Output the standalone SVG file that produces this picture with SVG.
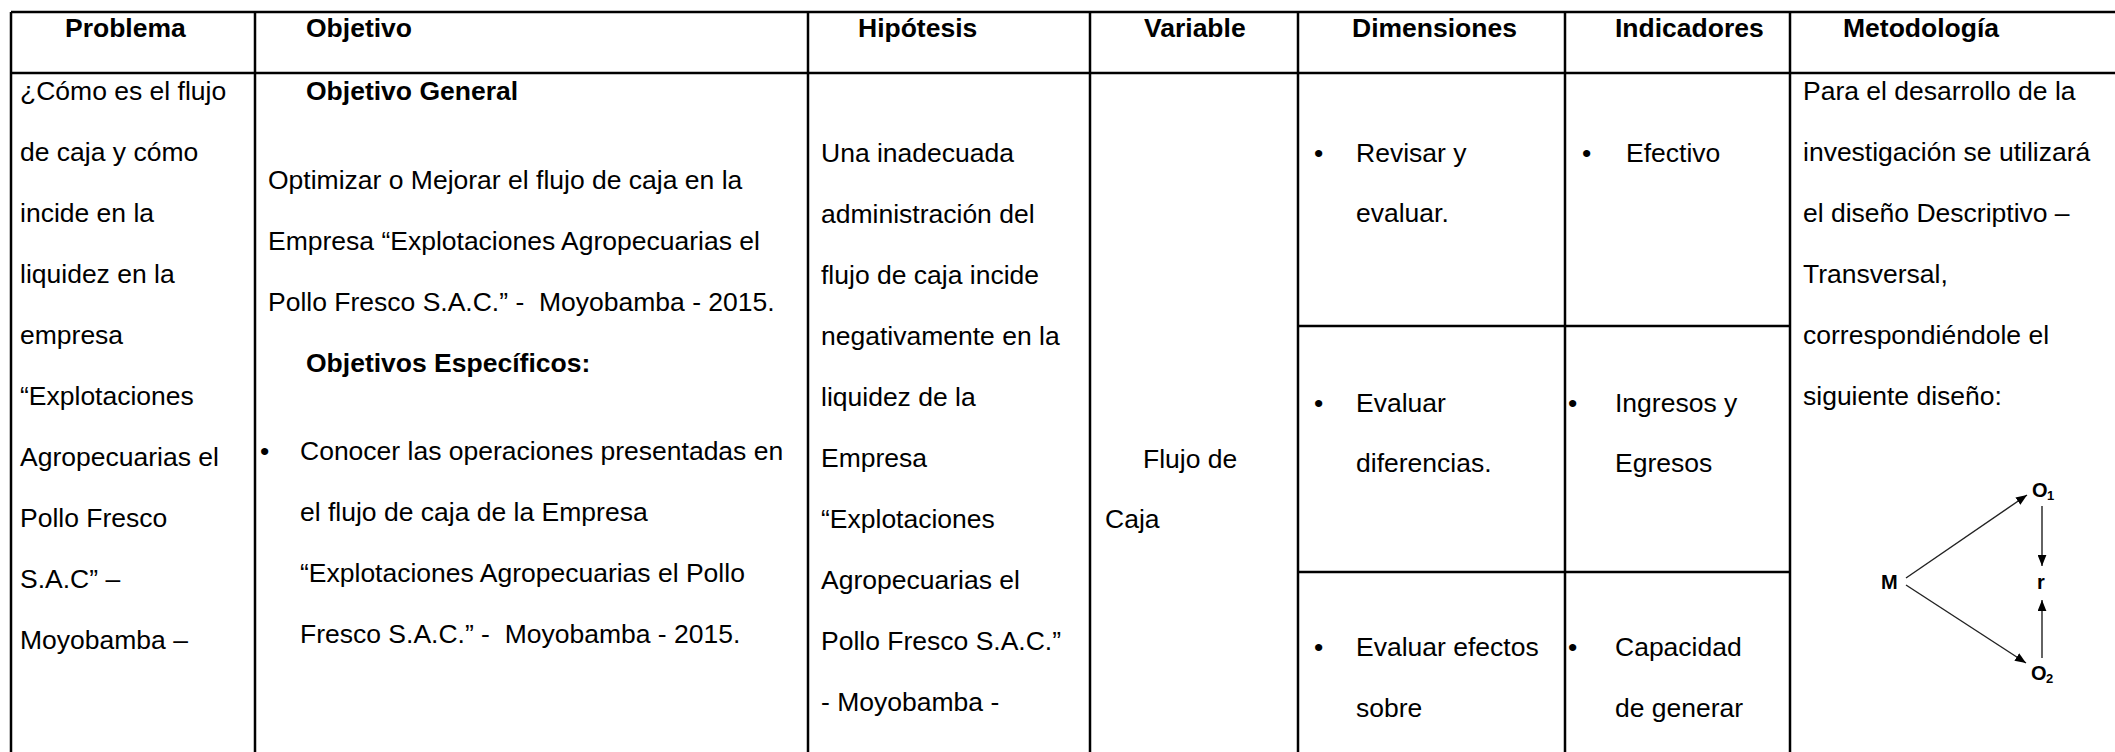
<svg xmlns="http://www.w3.org/2000/svg" width="2115" height="752" viewBox="0 0 2115 752">
<style>
text{font-family:"Liberation Sans",Arial,sans-serif;font-size:26.5px;fill:#000;white-space:pre}
.b{font-weight:bold}
.grid{stroke:#000;stroke-width:2.5;fill:none}
.dg{font-size:20px;font-weight:bold}
.sub{font-size:13px;font-weight:bold}
.conn{stroke:#222;stroke-width:1.4;fill:none}
</style>
<defs>
<marker id="ah" viewBox="0 0 10 8" refX="10" refY="4" markerWidth="11" markerHeight="9" markerUnits="userSpaceOnUse" orient="auto"><path d="M0,0 L10,4 L0,8 z" fill="#000"/></marker>
</defs>
<rect width="2115" height="752" fill="#fff"/>
<g id="grid" class="grid">
<path d="M11,12 H2115 M11,73 H2115 M1298,326 H1790 M1298,572 H1790"/>
<path d="M11,12 V752 M255,12 V752 M808,12 V752 M1090,12 V752 M1298,12 V752 M1565,12 V752 M1790,12 V752"/>
</g>
<g id="headers">
<g id="h-problema"><text class="b" x="65" y="37">Problema</text></g>
<g id="h-objetivo"><text class="b" x="306" y="37">Objetivo</text></g>
<g id="h-hipotesis"><text class="b" x="858" y="37">Hipótesis</text></g>
<g id="h-variable"><text class="b" x="1144" y="37">Variable</text></g>
<g id="h-dimensiones"><text class="b" x="1352" y="37">Dimensiones</text></g>
<g id="h-indicadores"><text class="b" x="1615" y="37">Indicadores</text></g>
<g id="h-metodologia"><text class="b" x="1843" y="37">Metodología</text></g>
</g>
<g id="problema">
<text x="20" y="100">¿Cómo es el flujo</text>
<text x="20" y="161">de caja y cómo</text>
<text x="20" y="222">incide en la</text>
<text x="20" y="283">liquidez en la</text>
<text x="20" y="344">empresa</text>
<text x="20" y="405">“Explotaciones</text>
<text x="20" y="466">Agropecuarias el</text>
<text x="20" y="527">Pollo Fresco</text>
<text x="20" y="588">S.A.C” –</text>
<text x="20" y="649">Moyobamba –</text>
</g>
<g id="objetivo">
<text class="b" x="306" y="100">Objetivo General</text>
<text x="268" y="189">Optimizar o Mejorar el flujo de caja en la</text>
<text x="268" y="250">Empresa “Explotaciones Agropecuarias el</text>
<text x="268" y="311">Pollo Fresco S.A.C.” -  Moyobamba - 2015.</text>
<text class="b" x="306" y="372">Objetivos Específicos:</text>
<text x="260" y="460">•</text>
<text x="300" y="460">Conocer las operaciones presentadas en</text>
<text x="300" y="521">el flujo de caja de la Empresa</text>
<text x="300" y="582">“Explotaciones Agropecuarias el Pollo</text>
<text x="300" y="643">Fresco S.A.C.” -  Moyobamba - 2015.</text>
</g>
<g id="hipotesis">
<text x="821" y="162">Una inadecuada</text>
<text x="821" y="223">administración del</text>
<text x="821" y="284">flujo de caja incide</text>
<text x="821" y="345">negativamente en la</text>
<text x="821" y="406">liquidez de la</text>
<text x="821" y="467">Empresa</text>
<text x="821" y="528">“Explotaciones</text>
<text x="821" y="589">Agropecuarias el</text>
<text x="821" y="650">Pollo Fresco S.A.C.”</text>
<text x="821" y="711">- Moyobamba -</text>
</g>
<g id="variable">
<text x="1143" y="468">Flujo de</text>
<text x="1105" y="528">Caja</text>
</g>
<g id="dim-1">
<text x="1314" y="162">•</text>
<text x="1356" y="162">Revisar y</text>
<text x="1356" y="222">evaluar.</text>
</g>
<g id="dim-2">
<text x="1314" y="412">•</text>
<text x="1356" y="412">Evaluar</text>
<text x="1356" y="472">diferencias.</text>
</g>
<g id="dim-3">
<text x="1314" y="656">•</text>
<text x="1356" y="656">Evaluar efectos</text>
<text x="1356" y="717">sobre</text>
</g>
<g id="ind-1">
<text x="1582" y="162">•</text>
<text x="1626" y="162">Efectivo</text>
</g>
<g id="ind-2">
<text x="1568" y="412">•</text>
<text x="1615" y="412">Ingresos y</text>
<text x="1615" y="472">Egresos</text>
</g>
<g id="ind-3">
<text x="1568" y="656">•</text>
<text x="1615" y="656">Capacidad</text>
<text x="1615" y="717">de generar</text>
</g>
<g id="metodologia">
<text x="1803" y="100">Para el desarrollo de la</text>
<text x="1803" y="161">investigación se utilizará</text>
<text x="1803" y="222">el diseño Descriptivo –</text>
<text x="1803" y="283">Transversal,</text>
<text x="1803" y="344">correspondiéndole el</text>
<text x="1803" y="405">siguiente diseño:</text>
</g>
<g id="node-M"><text class="dg" x="1881" y="589">M</text></g>
<g id="node-O1"><text class="dg" x="2032" y="497">O</text><text class="sub" x="2047" y="500">1</text></g>
<g id="node-r"><text class="dg" x="2037" y="589">r</text></g>
<g id="node-O2"><text class="dg" x="2031" y="680">O</text><text class="sub" x="2046" y="683">2</text></g>
<g id="connectors" class="conn">
<path d="M1906,578 L2027,495" marker-end="url(#ah)"/>
<path d="M1906,585 L2026,663" marker-end="url(#ah)"/>
<path d="M2042,506 V566" marker-end="url(#ah)"/>
<path d="M2042,658 V600" marker-end="url(#ah)"/>
</g>
</svg>
